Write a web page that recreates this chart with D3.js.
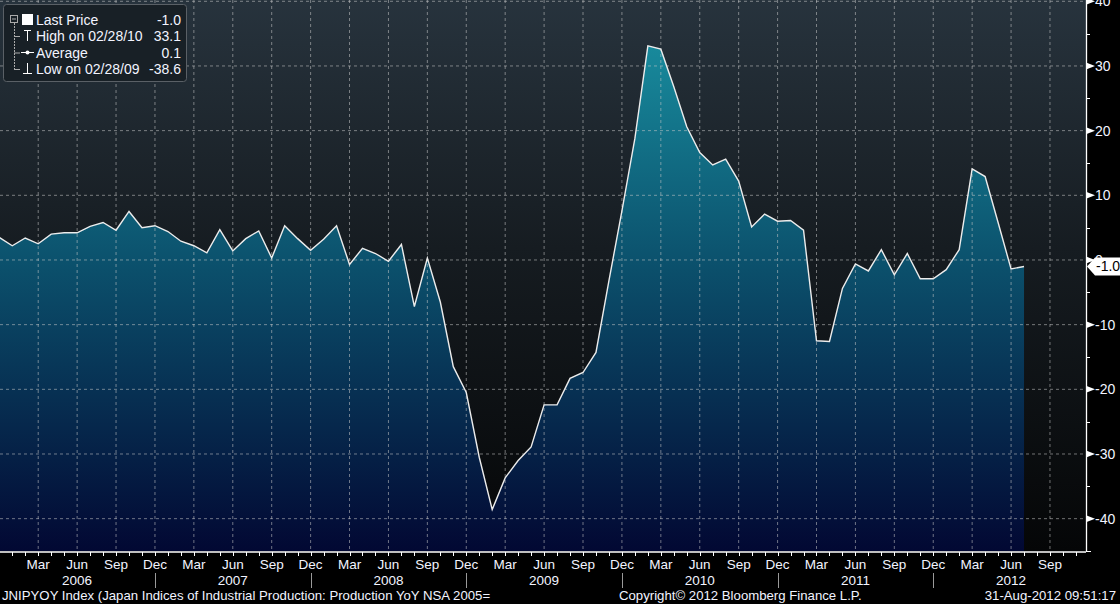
<!DOCTYPE html>
<html><head><meta charset="utf-8">
<script src="https://cdn.jsdelivr.net/npm/d3@7"></script>
<style>
html,body{margin:0;padding:0;background:#000;}
svg{display:block;font-family:"Liberation Sans",Arial,sans-serif;}
</style></head>
<body>
<svg id="chart" width="1120" height="604"></svg>
<script>
// ---- data ----
const startYear = 2005, startMonth = 11; // Dec 2005 (0-based month)
const monthNames = ["Jan","Feb","Mar","Apr","May","Jun","Jul","Aug","Sep","Oct","Nov","Dec"];
const values = [
  3.5, 2.2, 3.4, 2.5, 4.0, 4.2, 4.2, 5.2, 5.8, 4.6, 7.5, 5.0, 5.3,
  4.4, 2.9, 2.2, 1.1, 4.7, 1.4, 3.3, 4.5, 0.3, 5.3, 3.3, 1.5,
  3.2, 5.3, -0.7, 1.8, 1.0, -0.2, 2.4, -7.2, 0.3, -6.5, -16.5, -20.5,
  -30.5, -38.6, -33.7, -31.0, -28.9, -22.4, -22.4, -18.3, -17.4, -14.3, -3.2, 7.6,
  18.8, 33.1, 32.6, 26.8, 20.6, 16.6, 14.7, 15.6, 12.2, 5.1, 7.1, 6.0,
  6.1, 4.6, -12.5, -12.6, -4.4, -0.6, -1.7, 1.6, -2.3, 1.0, -2.9, -2.9,
  -1.5, 1.6, 14.1, 12.9, 5.8, -1.4, -1.0
];
const yTicks = [40, 30, 20, 10, 0, -10, -20, -30, -40];
const yMinor = [35, 25, 15, 5, -5, -15, -25, -35, -45];
const labelMonths = ["Mar","Jun","Sep","Dec"];
const years = [2006, 2007, 2008, 2009, 2010, 2011, 2012];
const legendRows = [
  {name: "Last Price", value: "-1.0"},
  {name: "High on 02/28/10", value: "33.1"},
  {name: "Average", value: "0.1"},
  {name: "Low on 02/28/09", value: "-38.6"}
];
const lastValue = -1.0;
const footerLeft = "JNIPYOY Index (Japan Indices of Industrial Production: Production YoY NSA 2005=";
const footerMid = "Copyright\u00A9 2012 Bloomberg Finance L.P.";
const footerRight = "31-Aug-2012 09:51:17";

// ---- layout ----
const W = 1120, H = 604;
const plotL = 0, plotR = 1086, plotT = 0, plotB = 551;
const nMonths = 84;

const svg = d3.select("#chart");
const defs = svg.append("defs");

const x = d3.scaleLinear().domain([0, 83.7]).range([-0.7, 1085]);
const y = d3.scaleLinear().domain([-45, 40.2]).range([plotB, plotT]);

const months = d3.range(nMonths).map(i => {
  const m = (startMonth + i) % 12;
  const yr = startYear + Math.floor((startMonth + i) / 12);
  return {i, m, yr, name: monthNames[m]};
});
const data = values.map((v, i) => ({i, v}));

// backgrounds
svg.append("rect").attr("width", W).attr("height", H).attr("fill", "#000");
const bg = defs.append("linearGradient").attr("id", "bg").attr("x1", 0).attr("y1", 0).attr("x2", 0).attr("y2", 1);
bg.append("stop").attr("offset", "0%").attr("stop-color", "#27333d");
bg.append("stop").attr("offset", "45%").attr("stop-color", "#161c21");
bg.append("stop").attr("offset", "100%").attr("stop-color", "#050607");
svg.append("rect").attr("x", plotL).attr("y", plotT).attr("width", plotR - plotL).attr("height", plotB - plotT).attr("fill", "url(#bg)");

const ag = defs.append("linearGradient").attr("id", "ag").attr("gradientUnits", "userSpaceOnUse")
  .attr("x1", 0).attr("y1", 40).attr("x2", 0).attr("y2", plotB);
ag.append("stop").attr("offset", "0%").attr("stop-color", "#188b9d");
ag.append("stop").attr("offset", "45%").attr("stop-color", "#0b4f6b");
ag.append("stop").attr("offset", "100%").attr("stop-color", "#020833");

defs.append("clipPath").attr("id", "clip").append("rect")
  .attr("x", plotL).attr("y", plotT).attr("width", plotR - plotL).attr("height", plotB - plotT);

const g = svg.append("g").attr("clip-path", "url(#clip)");
const area = d3.area().x(d => x(d.i)).y0(plotB).y1(d => y(d.v));
const line = d3.line().x(d => x(d.i)).y(d => y(d.v));
g.append("path").datum(data).attr("d", area).attr("fill", "url(#ag)");

// grid
const gridMonths = months.filter(d => labelMonths.includes(d.name));
g.selectAll(".vg").data(gridMonths).enter().append("line")
  .attr("x1", d => x(d.i)).attr("x2", d => x(d.i)).attr("y1", plotT).attr("y2", plotB)
  .attr("stroke", "#c8c8c8").attr("stroke-opacity", 0.55).attr("stroke-dasharray", "3,3");
g.selectAll(".hg").data(yTicks).enter().append("line")
  .attr("x1", plotL).attr("x2", plotR).attr("y1", d => y(d)).attr("y2", d => y(d))
  .attr("stroke", "#c8c8c8").attr("stroke-opacity", 0.55).attr("stroke-dasharray", "3,3");

g.append("path").datum(data).attr("d", line).attr("fill", "none")
  .attr("stroke", "#ececec").attr("stroke-width", 1.4).attr("stroke-linejoin", "miter");

// right axis
svg.append("line").attr("x1", plotR + 0.5).attr("x2", plotR + 0.5).attr("y1", 0).attr("y2", plotB)
  .attr("stroke", "#fff").attr("stroke-width", 1.3);
svg.append("line").attr("x1", plotR).attr("x2", plotR + 5).attr("y1", plotB + 0.5).attr("y2", plotB + 0.5)
  .attr("stroke", "#fff");
svg.selectAll(".ymin").data(yMinor).enter().append("line")
  .attr("x1", plotR).attr("x2", plotR + 4).attr("y1", d => Math.round(y(d)) + 0.5).attr("y2", d => Math.round(y(d)) + 0.5)
  .attr("stroke", "#fff");
svg.selectAll(".ytri").data(yTicks).enter().append("path")
  .attr("d", d => { const yy = y(d); return `M${plotR},${yy - 3.5}L${plotR + 9},${yy}L${plotR},${yy + 3.5}Z`; })
  .attr("fill", "#fff");
svg.selectAll(".ylab").data(yTicks).enter().append("text")
  .attr("x", plotR + 9).attr("y", d => y(d)).attr("dy", "0.36em")
  .attr("fill", "#f2f4ff").attr("font-size", 14).text(d => d);

// last price marker
const ly = y(lastValue);
svg.append("path")
  .attr("d", `M${plotR + 1},${ly}L${plotR + 9},${ly - 9}L${W},${ly - 9}L${W},${ly + 9}L${plotR + 9},${ly + 9}Z`)
  .attr("fill", "#fff");
svg.append("text").attr("x", plotR + 10).attr("y", ly).attr("dy", "0.36em")
  .attr("fill", "#000").attr("font-size", 14).text(lastValue.toFixed(1));

// bottom axis
svg.append("line").attr("x1", 0).attr("x2", plotR).attr("y1", plotB + 1).attr("y2", plotB + 1)
  .attr("stroke", "#fff").attr("stroke-width", 1.3);
svg.selectAll(".xt").data(months).enter().append("line")
  .attr("x1", d => Math.round(x(d.i)) + 0.5).attr("x2", d => Math.round(x(d.i)) + 0.5)
  .attr("y1", plotB + 1).attr("y2", plotB + 5).attr("stroke", "#fff");
svg.selectAll(".xl").data(gridMonths.filter(d => d.i > 0)).enter().append("text")
  .attr("x", d => x(d.i)).attr("y", 569).attr("text-anchor", "middle")
  .attr("fill", "#f2f4ff").attr("font-size", 13.5).text(d => d.name);
const junOf = yr => months.find(d => d.yr === yr && d.name === "Jun");
svg.selectAll(".yl").data(years).enter().append("text")
  .attr("x", d => x(junOf(d).i)).attr("y", 585).attr("text-anchor", "middle")
  .attr("fill", "#f2f4ff").attr("font-size", 13.5).text(d => d);
const decs = months.filter(d => d.name === "Dec" && d.i > 0 && d.yr < 2012);
svg.selectAll(".ysep").data(decs).enter().append("line")
  .attr("x1", d => Math.round(x(d.i)) + 0.5).attr("x2", d => Math.round(x(d.i)) + 0.5)
  .attr("y1", 573).attr("y2", 588).attr("stroke", "#9a9a9a");

// footer
svg.append("text").attr("x", 2).attr("y", 600).attr("fill", "#f2f4ff").attr("font-size", 13.2).text(footerLeft);
svg.append("text").attr("x", 619).attr("y", 600).attr("fill", "#f2f4ff").attr("font-size", 13.2).text(footerMid);
svg.append("text").attr("x", 1116).attr("y", 600).attr("text-anchor", "end").attr("fill", "#f2f4ff").attr("font-size", 13.2).text(footerRight);

// legend
const lg = svg.append("g");
lg.append("rect").attr("x", 3.5).attr("y", 4.5).attr("width", 183).attr("height", 77).attr("rx", 3)
  .attr("fill", "#182026").attr("stroke", "#5a6066").attr("stroke-width", 1);
const rowY = [20, 36, 52.5, 69];
// tree
lg.append("rect").attr("x", 10.5).attr("y", 15.5).attr("width", 7).attr("height", 7).attr("fill", "none").attr("stroke", "#aaa");
lg.append("line").attr("x1", 12).attr("x2", 16).attr("y1", 19).attr("y2", 19).attr("stroke", "#aaa");
lg.append("line").attr("x1", 14.5).attr("x2", 14.5).attr("y1", 23).attr("y2", 69).attr("stroke", "#aaa").attr("stroke-dasharray", "2,1");
[1, 2, 3].forEach(k => lg.append("line").attr("x1", 14).attr("x2", 20).attr("y1", rowY[k] + 0.5).attr("y2", rowY[k] + 0.5).attr("stroke", "#aaa"));
// symbols
lg.append("rect").attr("x", 22).attr("y", 14).attr("width", 11).attr("height", 11).attr("fill", "#fff");
lg.append("line").attr("x1", 24).attr("x2", 31).attr("y1", 30.5).attr("y2", 30.5).attr("stroke", "#fff");
lg.append("line").attr("x1", 27.5).attr("x2", 27.5).attr("y1", 30).attr("y2", 41).attr("stroke", "#fff");
lg.append("line").attr("x1", 21).attr("x2", 34).attr("y1", 52.5).attr("y2", 52.5).attr("stroke", "#fff");
lg.append("circle").attr("cx", 27.5).attr("cy", 52.5).attr("r", 2).attr("fill", "#fff");
lg.append("line").attr("x1", 27.5).attr("x2", 27.5).attr("y1", 63).attr("y2", 73).attr("stroke", "#fff");
lg.append("line").attr("x1", 23).attr("x2", 32).attr("y1", 73.5).attr("y2", 73.5).attr("stroke", "#fff");
lg.selectAll(".ln").data(legendRows).enter().append("text")
  .attr("x", 36).attr("y", (d, i) => rowY[i]).attr("dy", "0.36em")
  .attr("fill", "#f2f4ff").attr("font-size", 14).text(d => d.name);
lg.selectAll(".lv").data(legendRows).enter().append("text")
  .attr("x", 181).attr("y", (d, i) => rowY[i]).attr("dy", "0.36em").attr("text-anchor", "end")
  .attr("fill", "#f2f4ff").attr("font-size", 14).text(d => d.value);
</script>
</body></html>
